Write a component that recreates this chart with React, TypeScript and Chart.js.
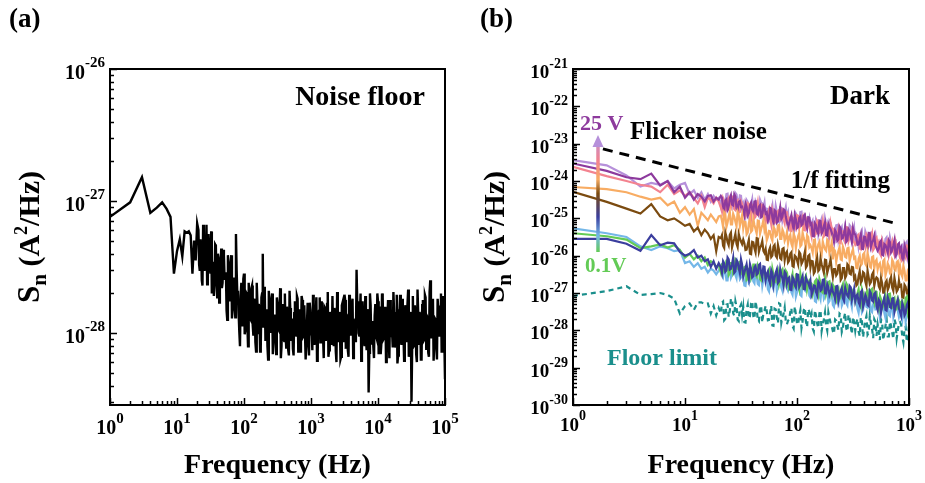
import React, { useEffect, useRef } from "react";
import { Chart, registerables } from "chart.js";

Chart.register(...registerables);

const SERIF = '"Liberation Serif", "Times New Roman", serif';

// ---------- Panel (a): noise floor ----------
const A_LOW_FREQ = [1, 2, 3, 4, 5, 6, 7, 8, 9, 10, 11, 12, 13, 14, 15, 16, 17, 18, 19, 20];
const A_LOW_EXP = [-27.12, -27.01, -26.82, -27.09, -27.05, -27.01, -27.06, -27.12, -27.55, -27.38, -27.29, -27.42, -27.23, -27.24, -27.23, -27.26, -27.55, -27.3, -27.45, -27.17];
// log10(frequency) of the dense part (even grid)
const A_HIGH_LOGF = [
  1.32, 1.34, 1.36, 1.38, 1.40, 1.42, 1.44, 1.46, 1.48, 1.50,
  1.52, 1.54, 1.56, 1.58, 1.60, 1.62, 1.64, 1.66, 1.68, 1.70,
  1.72, 1.74, 1.76, 1.78, 1.80, 1.82, 1.84, 1.86, 1.88, 1.90,
  1.92, 1.94, 1.96, 1.98, 2.00,
  2.02, 2.04, 2.06, 2.08, 2.10, 2.12, 2.14, 2.16, 2.18, 2.20,
  2.22, 2.24, 2.26, 2.28, 2.30, 2.32, 2.34, 2.36, 2.38, 2.40,
  2.42, 2.44, 2.46, 2.48, 2.50, 2.52, 2.54, 2.56, 2.58, 2.60,
  2.62, 2.64, 2.66, 2.68, 2.70, 2.72, 2.74, 2.76, 2.78, 2.80,
  2.82, 2.84, 2.86, 2.88, 2.90, 2.92, 2.94, 2.96, 2.98, 3.00,
  3.02, 3.04, 3.06, 3.08, 3.10, 3.12, 3.14, 3.16, 3.18, 3.20,
  3.22, 3.24, 3.26, 3.28, 3.30, 3.32, 3.34, 3.36, 3.38, 3.40,
  3.42, 3.44, 3.46, 3.48, 3.50, 3.52, 3.54, 3.56, 3.58, 3.60,
  3.62, 3.64, 3.66, 3.68, 3.70, 3.72, 3.74, 3.76, 3.78, 3.80,
  3.82, 3.84, 3.86, 3.88, 3.90, 3.92, 3.94, 3.96, 3.98, 4.00,
  4.02, 4.04, 4.06, 4.08, 4.10, 4.12, 4.14, 4.16, 4.18, 4.20,
  4.22, 4.24, 4.26, 4.28, 4.30, 4.32, 4.34, 4.36, 4.38, 4.40,
  4.42, 4.44, 4.46, 4.48, 4.50, 4.52, 4.54, 4.56, 4.58, 4.60,
  4.62, 4.64, 4.66, 4.68, 4.70, 4.72, 4.74, 4.76, 4.78, 4.80,
  4.82, 4.84, 4.86, 4.88, 4.90, 4.92, 4.94, 4.96, 4.98, 5.00,
];
const A_HIGH_EXP = [
  -27.22, -27.53, -27.36, -27.64, -27.29, -27.48, -27.18, -27.59, -27.40, -27.55,
  -27.70, -27.46, -27.59, -27.34, -27.73, -27.43, -27.65, -27.36, -27.62, -27.41,
  -27.59, -27.83, -27.41, -27.72, -27.48, -27.89, -27.61, -27.77, -27.25, -27.70,
  -27.85, -28.10, -27.62, -27.95, -27.55,
  -27.98, -27.70, -28.10, -27.76, -27.90, -27.64, -28.02, -27.81, -28.14, -27.77,
  -27.78, -28.14, -27.73, -27.40, -27.65, -28.06, -27.82, -28.20, -27.76, -27.92,
  -27.70, -28.04, -27.86, -28.16, -27.78, -27.98, -27.66, -28.10, -27.90, -28.06,
  -28.00, -27.80, -28.13, -27.68, -28.06, -27.89, -28.17, -27.76, -28.02, -27.74,
  -27.90, -28.14, -27.72, -28.03, -27.79, -28.20, -27.92, -28.08, -27.77, -28.01,
  -28.13, -27.86, -28.01, -27.73, -28.15, -27.83, -28.07, -27.76, -28.03, -27.80,
  -28.06, -27.78, -28.18, -27.84, -27.98, -27.72, -28.10, -27.89, -28.22, -27.85,
  -27.84, -28.20, -27.79, -28.06, -27.71, -28.12, -27.88, -28.18, -27.82, -27.98,
  -27.74, -28.08, -27.90, -27.52, -27.82, -28.02, -27.70, -28.14, -27.94, -28.10,
  -28.02, -27.82, -28.45, -27.70, -28.08, -27.91, -28.19, -27.78, -28.04, -27.76,
  -27.88, -28.16, -27.70, -28.05, -27.81, -28.22, -27.90, -28.06, -27.75, -28.03,
  -28.11, -27.84, -28.03, -27.71, -28.17, -27.85, -28.05, -27.74, -28.01, -27.82,
  -28.06, -27.78, -28.18, -27.84, -28.52, -27.72, -28.10, -27.89, -28.22, -27.85,
  -27.84, -28.20, -27.79, -28.06, -27.71, -28.12, -27.88, -28.18, -27.60, -27.98,
  -27.74, -28.08, -27.90, -28.20, -27.82, -28.02, -27.70, -28.14, -27.94, -28.35,
];
// odd grid, between the even points
const A_MID_LOGF = [
  1.33, 1.35, 1.37, 1.39, 1.41, 1.43, 1.45, 1.47, 1.49, 1.51,
  1.53, 1.55, 1.57, 1.59, 1.61, 1.63, 1.65, 1.67, 1.69, 1.71,
  1.73, 1.75, 1.77, 1.79, 1.81, 1.83, 1.85, 1.87, 1.89, 1.91,
  1.93, 1.95, 1.97, 1.99, 2.01, 2.03, 2.05, 2.07, 2.09, 2.11,
  2.13, 2.15, 2.17, 2.19, 2.21, 2.23, 2.25, 2.27, 2.29, 2.31,
  2.33, 2.35, 2.37, 2.39, 2.41, 2.43, 2.45, 2.47, 2.49, 2.51,
  2.53, 2.55, 2.57, 2.59, 2.61, 2.63, 2.65, 2.67, 2.69, 2.71,
  2.73, 2.75, 2.77, 2.79, 2.81, 2.83, 2.85, 2.87, 2.89, 2.91,
  2.93, 2.95, 2.97, 2.99, 3.01, 3.03, 3.05, 3.07, 3.09, 3.11,
  3.13, 3.15, 3.17, 3.19, 3.21, 3.23, 3.25, 3.27, 3.29, 3.31,
  3.33, 3.35, 3.37, 3.39, 3.41, 3.43, 3.45, 3.47, 3.49, 3.51,
  3.53, 3.55, 3.57, 3.59, 3.61, 3.63, 3.65, 3.67, 3.69, 3.71,
  3.73, 3.75, 3.77, 3.79, 3.81, 3.83, 3.85, 3.87, 3.89, 3.91,
  3.93, 3.95, 3.97, 3.99, 4.01, 4.03, 4.05, 4.07, 4.09, 4.11,
  4.13, 4.15, 4.17, 4.19, 4.21, 4.23, 4.25, 4.27, 4.29, 4.31,
  4.33, 4.35, 4.37, 4.39, 4.41, 4.43, 4.45, 4.47, 4.49, 4.51,
  4.53, 4.55, 4.57, 4.59, 4.61, 4.63, 4.65, 4.67, 4.69, 4.71,
  4.73, 4.75, 4.77, 4.79, 4.81, 4.83, 4.85, 4.87, 4.89, 4.91,
  4.93, 4.95, 4.97, 4.99,
];
const A_MID_EXP = [
  -27.48, -27.29, -27.60, -27.18, -27.53, -27.38, -27.63, -27.25, -27.50, -27.23,
  -27.49, -27.72, -27.33, -27.62, -27.40, -27.77, -27.52, -27.66, -27.37, -27.59,
  -27.54, -27.90, -27.49, -27.76, -27.41, -27.82, -27.58, -27.88, -27.52, -27.68,
  -27.99, -27.72, -27.87, -27.59, -28.01, -27.69, -27.93, -27.62, -27.89, -27.66,
  -27.94, -27.74, -28.07, -27.62, -28.00, -27.83, -28.11, -27.70, -27.96, -27.68,
  -27.86, -28.10, -27.68, -27.99, -27.75, -28.16, -27.88, -28.04, -27.73, -27.97,
  -27.83, -28.19, -27.78, -28.05, -27.70, -28.11, -27.87, -28.17, -27.81, -27.97,
  -28.12, -27.85, -28.00, -27.72, -28.14, -27.82, -28.06, -27.75, -28.02, -27.79,
  -28.05, -27.77, -28.17, -27.83, -27.97, -27.71, -28.09, -27.88, -28.21, -27.84,
  -27.73, -28.07, -27.89, -28.19, -27.81, -28.01, -27.69, -28.13, -27.93, -28.09,
  -28.01, -27.81, -28.14, -27.69, -28.07, -27.90, -28.18, -27.77, -28.03, -27.75,
  -27.89, -28.13, -27.71, -28.02, -27.78, -28.19, -27.91, -28.07, -27.76, -28.00,
  -27.85, -28.21, -27.76, -28.04, -27.72, -28.13, -27.85, -28.15, -27.79, -27.99,
  -28.10, -27.87, -28.02, -27.70, -28.16, -27.80, -28.08, -27.73, -28.04, -27.81,
  -28.07, -27.75, -28.19, -27.81, -27.99, -27.69, -28.11, -27.86, -28.23, -27.82,
  -27.71, -28.09, -27.87, -28.21, -27.79, -28.03, -27.67, -28.15, -27.91, -28.11,
  -28.03, -27.79, -28.16, -27.67, -28.09, -27.88, -28.20, -27.75, -28.05, -27.73,
  -27.87, -28.15, -27.69, -28.04, -27.76, -28.21, -27.89, -28.09, -27.74, -28.02,
  -27.80, -28.14, -27.72, -28.05,
];

const A_X_TICK_EXPS = [0, 1, 2, 3, 4, 5];
const A_Y_TICK_EXPS = [-26, -27, -28];

// ---------- Panel (b): dark, 0.1 V ... 25 V ----------
const B_LOW_FREQ = [1, 2, 3, 4, 5, 6, 7, 8, 9, 10, 11, 12, 13, 14, 15, 16, 17, 18, 19, 20];
const B_HIGH_LOGF = [
  1.32, 1.34, 1.36, 1.38, 1.40, 1.42, 1.44, 1.46, 1.48, 1.50,
  1.52, 1.54, 1.56, 1.58, 1.60, 1.62, 1.64, 1.66, 1.68, 1.70,
  1.72, 1.74, 1.76, 1.78, 1.80, 1.82, 1.84, 1.86, 1.88, 1.90,
  1.92, 1.94, 1.96, 1.98, 2.00, 2.02, 2.04, 2.06, 2.08, 2.10,
  2.12, 2.14, 2.16, 2.18, 2.20, 2.22, 2.24, 2.26, 2.28, 2.30,
  2.32, 2.34, 2.36, 2.38, 2.40, 2.42, 2.44, 2.46, 2.48, 2.50,
  2.52, 2.54, 2.56, 2.58, 2.60, 2.62, 2.64, 2.66, 2.68, 2.70,
  2.72, 2.74, 2.76, 2.78, 2.80, 2.82, 2.84, 2.86, 2.88, 2.90,
  2.92, 2.94, 2.96, 2.98, 3.00,
];
const B_MID_LOGF = [
  1.33, 1.35, 1.37, 1.39, 1.41, 1.43, 1.45, 1.47, 1.49, 1.51,
  1.53, 1.55, 1.57, 1.59, 1.61, 1.63, 1.65, 1.67, 1.69, 1.71,
  1.73, 1.75, 1.77, 1.79, 1.81, 1.83, 1.85, 1.87, 1.89, 1.91,
  1.93, 1.95, 1.97, 1.99, 2.01, 2.03, 2.05, 2.07, 2.09, 2.11,
  2.13, 2.15, 2.17, 2.19, 2.21, 2.23, 2.25, 2.27, 2.29, 2.31,
  2.33, 2.35, 2.37, 2.39, 2.41, 2.43, 2.45, 2.47, 2.49, 2.51,
  2.53, 2.55, 2.57, 2.59, 2.61, 2.63, 2.65, 2.67, 2.69, 2.71,
  2.73, 2.75, 2.77, 2.79, 2.81, 2.83, 2.85, 2.87, 2.89, 2.91,
  2.93, 2.95, 2.97, 2.99,
];

const B_PURPLE = [
  -23.53, -23.73, -23.9, -23.95, -23.8, -24.12, -24.0, -24.3, -24.15, -24.45, -24.3, -24.5, -24.35, -24.42, -24.55, -24.4, -24.38, -24.55, -24.45, -24.5,
  -24.40, -24.68, -24.53, -24.78, -24.46, -24.63, -24.36, -24.73, -24.56, -24.70,
  -24.83, -24.60, -24.93, -24.65, -24.77, -24.55, -24.87, -24.69, -24.97, -24.66,
  -24.87, -25.07, -24.72, -24.98, -24.78, -25.12, -24.89, -25.02, -24.76, -24.96,
  -25.24, -25.02, -25.14, -24.91, -25.26, -24.99, -25.19, -24.93, -25.16, -24.97,
  -25.17, -25.47, -25.13, -25.35, -25.06, -25.40, -25.20, -25.45, -25.15, -25.29,
  -25.49, -25.32, -25.60, -25.22, -25.54, -25.40, -25.63, -25.29, -25.51, -25.27,
  -25.43, -25.71, -25.56, -25.81, -25.49, -25.66, -25.39, -25.76, -25.59, -25.73,
  -25.87, -25.64, -25.97, -25.69, -25.81, -25.59, -25.91, -25.73, -26.01, -25.70,
  -25.87, -26.07, -25.72, -25.98, -25.78,
];
const B_PURPLE_MID = [
  -24.45, -24.79, -24.49, -24.72, -24.38, -24.65, -24.42, -24.77, -24.54, -24.69,
  -24.94, -24.69, -24.87, -24.58, -24.83, -24.54, -24.90, -24.65, -24.95, -24.72,
  -24.84, -25.01, -24.74, -25.13, -24.81, -25.08, -24.71, -24.96, -24.78, -25.10,
  -25.13, -24.91, -25.30, -25.03, -25.23, -24.95, -25.16, -24.90, -25.27, -24.98,
  -25.14, -25.48, -25.18, -25.41, -25.07, -25.34, -25.11, -25.46, -25.23, -25.38,
  -25.63, -25.38, -25.56, -25.27, -25.52, -25.23, -25.59, -25.34, -25.64, -25.41,
  -25.53, -25.70, -25.43, -25.82, -25.50, -25.77, -25.40, -25.65, -25.47, -25.79,
  -25.82, -25.60, -25.99, -25.72, -25.92, -25.64, -25.85, -25.59, -25.96, -25.67,
  -25.79, -26.13, -25.83, -26.06,
];
const B_LAVENDER = [
  -23.44, -23.58, -23.85, -24.15, -24.05, -24.1, -24.0, -24.2, -24.1, -24.05, -24.35, -24.25, -24.45, -24.3, -24.5, -24.35, -24.55, -24.4, -24.5, -24.45,
  -24.67, -24.45, -24.57, -24.34, -24.69, -24.42, -24.62, -24.36, -24.59, -24.40,
  -24.60, -24.90, -24.56, -24.78, -24.49, -24.83, -24.63, -24.88, -24.58, -24.72,
  -24.92, -24.75, -25.03, -24.65, -24.97, -24.83, -25.06, -24.72, -24.94, -24.70,
  -24.86, -25.14, -24.99, -25.24, -24.92, -25.09, -24.82, -25.19, -25.02, -25.16,
  -25.29, -25.06, -25.39, -25.11, -25.23, -25.01, -25.33, -25.15, -25.43, -25.12,
  -25.33, -25.53, -25.18, -25.44, -25.24, -25.58, -25.35, -25.48, -25.22, -25.42,
  -25.69, -25.47, -25.59, -25.36, -25.71, -25.44, -25.64, -25.38, -25.61, -25.42,
  -25.62, -25.92, -25.58, -25.80, -25.51, -25.85, -25.65, -25.90, -25.60, -25.74,
  -25.90, -25.73, -26.01, -25.63, -25.95,
];
const B_LAVENDER_MID = [
  -24.45, -24.62, -24.35, -24.74, -24.42, -24.69, -24.32, -24.57, -24.39, -24.71,
  -24.73, -24.51, -24.90, -24.63, -24.83, -24.55, -24.76, -24.50, -24.87, -24.58,
  -24.74, -25.08, -24.78, -25.01, -24.67, -24.94, -24.71, -25.06, -24.83, -24.98,
  -25.23, -24.98, -25.16, -24.87, -25.12, -24.83, -25.19, -24.94, -25.24, -25.01,
  -25.13, -25.30, -25.03, -25.42, -25.10, -25.37, -25.00, -25.25, -25.07, -25.39,
  -25.41, -25.19, -25.58, -25.31, -25.51, -25.23, -25.44, -25.18, -25.55, -25.26,
  -25.42, -25.76, -25.46, -25.69, -25.35, -25.62, -25.39, -25.74, -25.51, -25.66,
  -25.91, -25.66, -25.84, -25.55, -25.80, -25.51, -25.87, -25.62, -25.92, -25.69,
  -25.77, -25.94, -25.67, -26.06,
];
const B_PINK = [
  -23.62, -23.87, -24.0, -24.1, -24.15, -24.3, -24.1, -24.35, -24.25, -24.4, -24.3, -24.45, -24.6, -24.4, -24.7, -24.45, -24.5, -24.6, -24.45, -24.55,
  -24.71, -24.48, -24.81, -24.53, -24.65, -24.43, -24.75, -24.57, -24.85, -24.54,
  -24.74, -24.94, -24.59, -24.85, -24.65, -24.99, -24.76, -24.89, -24.63, -24.83,
  -25.10, -24.88, -25.00, -24.77, -25.12, -24.85, -25.05, -24.79, -25.02, -24.83,
  -25.03, -25.33, -24.99, -25.21, -24.92, -25.26, -25.06, -25.31, -25.01, -25.15,
  -25.34, -25.17, -25.45, -25.07, -25.39, -25.25, -25.48, -25.14, -25.36, -25.12,
  -25.28, -25.56, -25.41, -25.66, -25.34, -25.51, -25.24, -25.61, -25.44, -25.58,
  -25.71, -25.48, -25.81, -25.53, -25.65, -25.43, -25.75, -25.57, -25.85, -25.54,
  -25.74, -25.94, -25.59, -25.85, -25.65, -25.99, -25.76, -25.89, -25.63, -25.83,
  -26.06, -25.84, -25.96, -25.73, -26.08,
];
const B_PINK_MID = [
  -24.82, -24.57, -24.75, -24.46, -24.71, -24.42, -24.78, -24.53, -24.83, -24.60,
  -24.71, -24.88, -24.61, -25.00, -24.68, -24.95, -24.58, -24.83, -24.65, -24.97,
  -24.99, -24.77, -25.16, -24.89, -25.09, -24.81, -25.02, -24.76, -25.13, -24.84,
  -25.00, -25.34, -25.04, -25.27, -24.93, -25.20, -24.97, -25.32, -25.09, -25.24,
  -25.48, -25.23, -25.41, -25.12, -25.37, -25.08, -25.44, -25.19, -25.49, -25.26,
  -25.38, -25.55, -25.28, -25.67, -25.35, -25.62, -25.25, -25.50, -25.32, -25.64,
  -25.66, -25.44, -25.83, -25.56, -25.76, -25.48, -25.69, -25.43, -25.80, -25.51,
  -25.66, -26.00, -25.70, -25.93, -25.59, -25.86, -25.63, -25.98, -25.75, -25.90,
  -26.11, -25.86, -26.04, -25.75,
];
const B_ORANGE = [
  -24.16, -24.22, -24.3, -24.42, -24.5, -24.45, -24.65, -24.55, -24.85, -24.7, -24.9, -24.75, -25.2, -24.85, -24.95, -25.05, -24.9, -25.0, -25.1, -24.95,
  -24.93, -25.23, -24.89, -25.11, -24.82, -25.16, -24.96, -25.21, -24.91, -25.05,
  -25.27, -25.10, -25.38, -25.00, -25.32, -25.18, -25.41, -25.07, -25.29, -25.05,
  -25.22, -25.50, -25.35, -25.60, -25.28, -25.45, -25.18, -25.55, -25.38, -25.52,
  -25.67, -25.44, -25.77, -25.49, -25.61, -25.39, -25.71, -25.53, -25.81, -25.50,
  -25.72, -25.92, -25.57, -25.83, -25.63, -25.97, -25.74, -25.87, -25.61, -25.81,
  -26.10, -25.88, -26.00, -25.77, -26.12, -25.85, -26.05, -25.79, -26.02, -25.83,
  -26.04, -26.34, -26.00, -26.22, -25.93, -26.27, -26.07, -26.32, -26.02, -26.16,
  -26.37, -26.20, -26.48, -26.10, -26.42, -26.28, -26.51, -26.17, -26.39, -26.15,
  -26.28, -26.56, -26.41, -26.66, -26.34,
];
const B_ORANGE_MID = [
  -25.06, -24.84, -25.23, -24.96, -25.16, -24.88, -25.09, -24.83, -25.20, -24.91,
  -25.09, -25.43, -25.13, -25.36, -25.02, -25.29, -25.06, -25.41, -25.18, -25.33,
  -25.59, -25.34, -25.52, -25.23, -25.48, -25.19, -25.55, -25.30, -25.60, -25.37,
  -25.51, -25.68, -25.41, -25.80, -25.48, -25.75, -25.38, -25.63, -25.45, -25.77,
  -25.80, -25.58, -25.97, -25.70, -25.90, -25.62, -25.83, -25.57, -25.94, -25.65,
  -25.83, -26.17, -25.87, -26.10, -25.76, -26.03, -25.80, -26.15, -25.92, -26.07,
  -26.33, -26.08, -26.26, -25.97, -26.22, -25.93, -26.29, -26.04, -26.34, -26.11,
  -26.24, -26.41, -26.14, -26.53, -26.21, -26.48, -26.11, -26.36, -26.18, -26.50,
  -26.49, -26.27, -26.66, -26.39,
];
const B_BROWN = [
  -24.29, -24.56, -24.74, -24.87, -24.62, -24.95, -25.05, -25.0, -25.1, -25.2, -25.15, -25.35, -25.25, -25.45, -25.3, -25.4, -25.55, -25.45, -25.88, -25.5,
  -25.53, -25.73, -25.38, -25.64, -25.44, -25.78, -25.55, -25.68, -25.42, -25.62,
  -25.57, -25.85, -25.70, -25.95, -25.63, -25.80, -25.53, -25.90, -25.73, -25.87,
  -25.82, -26.12, -25.78, -26.00, -25.71, -26.05, -25.85, -26.10, -25.80, -25.94,
  -26.18, -25.95, -26.28, -26.00, -26.12, -25.90, -26.22, -26.04, -26.32, -26.01,
  -26.32, -26.15, -26.43, -26.05, -26.37, -26.23, -26.46, -26.12, -26.34, -26.10,
  -26.58, -26.36, -26.48, -26.25, -26.60, -26.33, -26.53, -26.27, -26.50, -26.31,
  -26.56, -26.76, -26.41, -26.67, -26.47, -26.81, -26.58, -26.71, -26.45, -26.65,
  -26.61, -26.89, -26.74, -26.99, -26.67, -26.84, -26.57, -26.94, -26.77, -26.91,
  -26.82, -27.12, -26.78, -27.00, -26.71,
];
const B_BROWN_MID = [
  -25.45, -25.79, -25.49, -25.72, -25.38, -25.65, -25.42, -25.77, -25.54, -25.69,
  -25.67, -25.84, -25.57, -25.96, -25.64, -25.91, -25.54, -25.79, -25.61, -25.93,
  -26.11, -25.86, -26.04, -25.75, -26.00, -25.71, -26.07, -25.82, -26.12, -25.89,
  -26.13, -25.91, -26.30, -26.03, -26.23, -25.95, -26.16, -25.90, -26.27, -25.98,
  -26.14, -26.48, -26.18, -26.41, -26.07, -26.34, -26.11, -26.46, -26.23, -26.38,
  -26.36, -26.53, -26.26, -26.65, -26.33, -26.60, -26.23, -26.48, -26.30, -26.62,
  -26.80, -26.55, -26.73, -26.44, -26.69, -26.40, -26.76, -26.51, -26.81, -26.58,
  -26.82, -26.60, -26.99, -26.72, -26.92, -26.64, -26.85, -26.59, -26.96, -26.67,
  -26.79, -27.13, -26.83, -27.06,
];
const B_NAVY = [
  -25.55, -25.55, -25.68, -25.87, -25.45, -25.72, -25.65, -25.67, -25.9, -26.0, -25.95, -25.85, -26.05, -26.0, -26.15, -26.1, -26.3, -26.15, -26.35, -26.2,
  -26.32, -26.15, -26.43, -26.05, -26.37, -26.23, -26.46, -26.12, -26.34, -26.10,
  -26.56, -26.34, -26.46, -26.23, -26.58, -26.31, -26.51, -26.25, -26.48, -26.29,
  -26.65, -26.42, -26.75, -26.47, -26.59, -26.37, -26.69, -26.51, -26.79, -26.48,
  -26.61, -26.91, -26.57, -26.79, -26.50, -26.84, -26.64, -26.89, -26.59, -26.73,
  -26.68, -26.96, -26.81, -27.06, -26.74, -26.91, -26.64, -27.01, -26.84, -26.98,
  -26.96, -27.16, -26.81, -27.07, -26.87, -27.21, -26.98, -27.11, -26.85, -27.05,
  -27.21, -27.04, -27.32, -26.94, -27.26, -27.12, -27.35, -27.01, -27.23, -26.99,
  -27.45, -27.23, -27.35, -27.12, -27.47, -27.20, -27.40, -27.14, -27.37, -27.18,
  -27.50, -27.27, -27.60, -27.32, -27.44,
];
const B_NAVY_MID = [
  -26.46, -26.21, -26.39, -26.10, -26.35, -26.06, -26.42, -26.17, -26.47, -26.24,
  -26.45, -26.23, -26.62, -26.35, -26.55, -26.27, -26.48, -26.22, -26.59, -26.30,
  -26.49, -26.66, -26.39, -26.78, -26.46, -26.73, -26.36, -26.61, -26.43, -26.75,
  -26.58, -26.92, -26.62, -26.85, -26.51, -26.78, -26.55, -26.90, -26.67, -26.82,
  -27.05, -26.80, -26.98, -26.69, -26.94, -26.65, -27.01, -26.76, -27.06, -26.83,
  -27.04, -26.82, -27.21, -26.94, -27.14, -26.86, -27.07, -26.81, -27.18, -26.89,
  -27.08, -27.25, -26.98, -27.37, -27.05, -27.32, -26.95, -27.20, -27.02, -27.34,
  -27.18, -27.52, -27.22, -27.45, -27.11, -27.38, -27.15, -27.50, -27.27, -27.42,
  -27.61, -27.36, -27.54, -27.25,
];
const B_LIGHTBLUE = [
  -25.27, -25.4, -25.5, -25.75, -25.85, -25.75, -25.8, -25.88, -25.85, -26.2, -26.15, -26.3, -26.2, -26.35, -26.3, -26.45, -26.35, -26.4, -26.5, -26.4,
  -26.28, -26.56, -26.41, -26.66, -26.34, -26.51, -26.24, -26.61, -26.44, -26.58,
  -26.51, -26.81, -26.47, -26.69, -26.40, -26.74, -26.54, -26.79, -26.49, -26.63,
  -26.70, -26.90, -26.55, -26.81, -26.61, -26.95, -26.72, -26.85, -26.59, -26.79,
  -26.94, -26.77, -27.05, -26.67, -26.99, -26.85, -27.08, -26.74, -26.96, -26.72,
  -27.12, -26.89, -27.22, -26.94, -27.06, -26.84, -27.16, -26.98, -27.26, -26.95,
  -27.32, -27.10, -27.22, -26.99, -27.34, -27.07, -27.27, -27.01, -27.24, -27.05,
  -27.14, -27.42, -27.27, -27.52, -27.20, -27.37, -27.10, -27.47, -27.30, -27.44,
  -27.36, -27.66, -27.32, -27.54, -27.25, -27.59, -27.39, -27.64, -27.34, -27.48,
  -27.52, -27.72, -27.37, -27.63, -27.43,
];
const B_LIGHTBLUE_MID = [
  -26.49, -26.27, -26.66, -26.39, -26.59, -26.31, -26.52, -26.26, -26.63, -26.34,
  -26.80, -26.55, -26.73, -26.44, -26.69, -26.40, -26.76, -26.51, -26.81, -26.58,
  -26.62, -26.96, -26.66, -26.89, -26.55, -26.82, -26.59, -26.94, -26.71, -26.86,
  -26.81, -26.98, -26.71, -27.10, -26.78, -27.05, -26.68, -26.93, -26.75, -27.07,
  -27.07, -26.85, -27.24, -26.97, -27.17, -26.89, -27.10, -26.84, -27.21, -26.92,
  -27.37, -27.12, -27.30, -27.01, -27.26, -26.97, -27.33, -27.08, -27.38, -27.15,
  -27.19, -27.53, -27.23, -27.46, -27.12, -27.39, -27.16, -27.51, -27.28, -27.43,
  -27.38, -27.55, -27.28, -27.67, -27.35, -27.62, -27.25, -27.50, -27.32, -27.64,
  -27.60, -27.38, -27.77, -27.50,
];
const B_GREEN = [
  -25.4, -25.48, -25.57, -25.8, -25.75, -25.7, -25.78, -25.72, -25.85, -26.05, -25.95, -26.1, -26.0, -26.15, -26.05, -26.25, -26.15, -26.2, -26.3, -26.25,
  -26.45, -26.23, -26.35, -26.12, -26.47, -26.20, -26.40, -26.14, -26.37, -26.18,
  -26.52, -26.29, -26.62, -26.34, -26.46, -26.24, -26.56, -26.38, -26.66, -26.35,
  -26.62, -26.45, -26.73, -26.35, -26.67, -26.53, -26.76, -26.42, -26.64, -26.40,
  -26.65, -26.85, -26.50, -26.76, -26.56, -26.90, -26.67, -26.80, -26.54, -26.74,
  -26.73, -27.03, -26.69, -26.91, -26.62, -26.96, -26.76, -27.01, -26.71, -26.85,
  -26.78, -27.06, -26.91, -27.16, -26.84, -27.01, -26.74, -27.11, -26.94, -27.08,
  -27.23, -27.01, -27.13, -26.90, -27.25, -26.98, -27.18, -26.92, -27.15, -26.96,
  -27.31, -27.08, -27.41, -27.13, -27.25, -27.03, -27.35, -27.17, -27.45, -27.14,
  -27.37, -27.20, -27.48, -27.10, -27.42,
];
const B_GREEN_MID = [
  -26.23, -26.40, -26.13, -26.52, -26.20, -26.47, -26.10, -26.35, -26.17, -26.49,
  -26.31, -26.65, -26.35, -26.58, -26.24, -26.51, -26.28, -26.63, -26.40, -26.55,
  -26.60, -26.38, -26.77, -26.50, -26.70, -26.42, -26.63, -26.37, -26.74, -26.45,
  -26.89, -26.64, -26.82, -26.53, -26.78, -26.49, -26.85, -26.60, -26.90, -26.67,
  -26.75, -26.92, -26.65, -27.04, -26.72, -26.99, -26.62, -26.87, -26.69, -27.01,
  -26.83, -27.17, -26.87, -27.10, -26.76, -27.03, -26.80, -27.15, -26.92, -27.07,
  -27.12, -26.90, -27.29, -27.02, -27.22, -26.94, -27.15, -26.89, -27.26, -26.97,
  -27.42, -27.17, -27.35, -27.06, -27.31, -27.02, -27.38, -27.13, -27.43, -27.20,
  -27.24, -27.41, -27.14, -27.53,
];
const B_FLOOR = [
  -27.08, -26.95, -26.82, -27.05, -27.03, -27.0, -27.05, -27.15, -27.55, -27.35, -27.28, -27.45, -27.25, -27.25, -27.3, -27.28, -27.55, -27.35, -27.6, -27.4,
  -27.55, -27.23, -27.69, -27.30, -27.47, -27.16, -27.61, -27.36, -27.75, -27.31,
  -27.37, -27.79, -27.31, -27.62, -27.22, -27.69, -27.41, -27.76, -27.34, -27.54,
  -27.34, -27.73, -27.52, -27.87, -27.42, -27.66, -27.28, -27.80, -27.56, -27.76,
  -27.74, -27.50, -27.89, -27.36, -27.81, -27.61, -27.94, -27.46, -27.77, -27.43,
  -27.67, -27.95, -27.46, -27.82, -27.54, -28.02, -27.70, -27.88, -27.52, -27.80,
  -28.02, -27.71, -27.88, -27.55, -28.04, -27.67, -27.95, -27.58, -27.90, -27.64,
  -28.01, -27.69, -28.15, -27.76, -27.93, -27.62, -28.07, -27.82, -28.21, -27.77,
  -27.84, -28.26, -27.78, -28.09, -27.69, -28.16, -27.88, -28.23, -27.81, -28.01,
  -27.78, -28.17, -27.96, -28.31, -27.86,
];
const B_FLOOR_MID = [
  -27.26, -27.73, -27.31, -27.64, -27.16, -27.54, -27.22, -27.71, -27.38, -27.59,
  -27.78, -27.43, -27.68, -27.27, -27.62, -27.22, -27.72, -27.37, -27.79, -27.47,
  -27.48, -27.72, -27.34, -27.88, -27.44, -27.81, -27.30, -27.65, -27.39, -27.84,
  -27.71, -27.40, -27.95, -27.57, -27.85, -27.46, -27.75, -27.39, -27.91, -27.50,
  -27.56, -28.03, -27.61, -27.94, -27.46, -27.84, -27.52, -28.01, -27.68, -27.89,
  -28.09, -27.74, -27.99, -27.58, -27.93, -27.53, -28.03, -27.68, -28.10, -27.78,
  -27.79, -28.03, -27.65, -28.19, -27.75, -28.12, -27.61, -27.96, -27.70, -28.15,
  -28.02, -27.71, -28.26, -27.88, -28.16, -27.77, -28.06, -27.70, -28.22, -27.81,
  -27.85, -28.32, -27.90, -28.23,
];
// 1/f fitting guide line: frequency and log10(S_n) at both ends
const FIT_FREQ = [1.85, 750];
const FIT_EXP = [-23.14, -25.13];

const B_X_TICK_EXPS = [0, 1, 2, 3];
const B_Y_TICK_EXPS = [-21, -22, -23, -24, -25, -26, -27, -28, -29, -30];

const C_LAVENDER = "#b690da";
const C_PURPLE = "#8d3a9d";
const C_PINK = "#f3838f";
const C_ORANGE = "#f8ac63";
const C_BROWN = "#7b4b10";
const C_NAVY = "#3b3e9e";
const C_LIGHTBLUE = "#74b7e8";
const C_GREEN = "#63cb56";
const C_TEAL = "#1a8f8c";

const pts = (freq: number[], exps: number[]) =>
  freq.map((f, i) => ({ x: f, y: Math.pow(10, exps[i]) }));
const fromLog = (logs: number[]) => logs.map((v) => Math.pow(10, v));

const A_POINTS = [
  ...pts(A_LOW_FREQ, A_LOW_EXP),
  ...pts(fromLog(A_HIGH_LOGF), A_HIGH_EXP),
  ...pts(fromLog(A_MID_LOGF), A_MID_EXP),
].sort((p, q) => p.x - q.x);
const FREQ_B = [...B_LOW_FREQ, ...fromLog(B_HIGH_LOGF)];
const FREQ_B_MID = fromLog(B_MID_LOGF);
const seriesB = (main: number[], mid: number[]) =>
  [...pts(FREQ_B, main), ...pts(FREQ_B_MID, mid)].sort((p, q) => p.x - q.x);

type Note = { text: string; x: number; y: number; size: number; color: string; align: CanvasTextAlign };
type Deco = {
  label: string;
  labelX: number;
  xTicks: number[];
  yTicks: number[];
  baseSize: number;
  expSize: number;
  yBaseOff: number;
  yExpOff: number;
  xBaseline: number;
  xExpBaseline: number;
  titleX: number;
  notes: Note[];
  arrow?: { x: number; yBottom: number; yTop: number };
};

function drawPow(
  ctx: CanvasRenderingContext2D,
  x: number,
  baseY: number,
  expY: number,
  exp: string,
  baseSize: number,
  expSize: number,
  align: "right" | "center"
) {
  const fb = `bold ${baseSize}px ${SERIF}`;
  const fe = `bold ${expSize}px ${SERIF}`;
  ctx.font = fb;
  const wb = ctx.measureText("10").width;
  ctx.font = fe;
  const we = ctx.measureText(exp).width;
  const x0 = align === "right" ? x - wb - we : x - (wb + we) / 2;
  ctx.textAlign = "left";
  ctx.textBaseline = "alphabetic";
  ctx.fillStyle = "#000";
  ctx.font = fb;
  ctx.fillText("10", x0, baseY);
  ctx.font = fe;
  ctx.fillText(exp, x0 + wb, expY);
}

function drawMinorMajor(ctx: CanvasRenderingContext2D, scale: any, horizontal: boolean, area: any) {
  const lo = Math.floor(Math.log10(scale.min)) - 1;
  const hi = Math.ceil(Math.log10(scale.max));
  ctx.strokeStyle = "#000";
  ctx.lineWidth = 1.5;
  for (let d = lo; d <= hi; d++) {
    for (let m = 1; m <= 9; m++) {
      const v = m * Math.pow(10, d);
      if (v < scale.min * 0.9999 || v > scale.max * 1.0001) continue;
      const p = Math.round(scale.getPixelForValue(v)) + 0.5;
      const len = m === 1 ? 7 : 4;
      ctx.beginPath();
      if (horizontal) {
        ctx.moveTo(p, area.bottom);
        ctx.lineTo(p, area.bottom - len);
      } else {
        ctx.moveTo(area.left, p);
        ctx.lineTo(area.left + len, p);
      }
      ctx.stroke();
    }
  }
}

function makeDecoPlugin(deco: Deco) {
  return {
    id: "deco",
    afterDraw(chart: any) {
      const ctx: CanvasRenderingContext2D = chart.ctx;
      const area = chart.chartArea;
      const xs = chart.scales.x;
      const ys = chart.scales.y;
      ctx.save();
      ctx.strokeStyle = "#000";
      ctx.lineWidth = 2;
      ctx.strokeRect(area.left, area.top, area.right - area.left, area.bottom - area.top);
      drawMinorMajor(ctx, xs, true, area);
      drawMinorMajor(ctx, ys, false, area);
      for (const e of deco.yTicks) {
        const p = ys.getPixelForValue(Math.pow(10, e));
        drawPow(ctx, area.left - 5, p + deco.yBaseOff, p + deco.yExpOff, String(e), deco.baseSize, deco.expSize, "right");
      }
      for (const e of deco.xTicks) {
        const p = xs.getPixelForValue(Math.pow(10, e));
        drawPow(ctx, p, deco.xBaseline, deco.xExpBaseline, String(e), deco.baseSize, deco.expSize, "center");
      }
      ctx.fillStyle = "#000";
      ctx.font = `bold 28px ${SERIF}`;
      ctx.textAlign = "center";
      ctx.textBaseline = "alphabetic";
      ctx.fillText("Frequency (Hz)", (area.left + area.right) / 2, 473);
      const runs = [
        { t: "S", s: 31, dy: 0 },
        { t: "n", s: 21, dy: 7 },
        { t: " (A", s: 30, dy: 0 },
        { t: "2", s: 18, dy: -12 },
        { t: "/Hz)", s: 30, dy: 0 },
      ];
      let total = 0;
      const widths = runs.map((r) => {
        ctx.font = `bold ${r.s}px ${SERIF}`;
        const w = ctx.measureText(r.t).width;
        total += w;
        return w;
      });
      ctx.save();
      ctx.translate(deco.titleX, (area.top + area.bottom) / 2);
      ctx.rotate(-Math.PI / 2);
      ctx.textAlign = "left";
      let cx = -total / 2;
      runs.forEach((r, i) => {
        ctx.font = `bold ${r.s}px ${SERIF}`;
        ctx.fillText(r.t, cx, 10 + r.dy);
        cx += widths[i];
      });
      ctx.restore();
      ctx.font = `bold 27px ${SERIF}`;
      ctx.textAlign = "left";
      ctx.textBaseline = "middle";
      ctx.fillStyle = "#000";
      ctx.fillText(deco.label, deco.labelX, 20);
      if (deco.arrow) {
        const { x, yBottom, yTop } = deco.arrow;
        const g = ctx.createLinearGradient(0, yBottom, 0, yTop);
        g.addColorStop(0, C_GREEN);
        g.addColorStop(0.14, C_LIGHTBLUE);
        g.addColorStop(0.3, C_NAVY);
        g.addColorStop(0.5, C_BROWN);
        g.addColorStop(0.62, C_ORANGE);
        g.addColorStop(0.78, C_PINK);
        g.addColorStop(1, C_LAVENDER);
        ctx.strokeStyle = g;
        ctx.lineWidth = 3.5;
        ctx.beginPath();
        ctx.moveTo(x, yBottom);
        ctx.lineTo(x, yTop + 9);
        ctx.stroke();
        ctx.fillStyle = C_LAVENDER;
        ctx.beginPath();
        ctx.moveTo(x, yTop);
        ctx.lineTo(x - 5.5, yTop + 12);
        ctx.lineTo(x + 5.5, yTop + 12);
        ctx.closePath();
        ctx.fill();
      }
      for (const n of deco.notes) {
        ctx.font = `bold ${n.size}px ${SERIF}`;
        ctx.fillStyle = n.color;
        ctx.textAlign = n.align;
        ctx.textBaseline = "middle";
        ctx.fillText(n.text, n.x, n.y);
      }
      ctx.restore();
    },
  };
}

function baseOptions(pad: any, xMin: number, xMax: number, yMin: number, yMax: number): any {
  return {
    animation: false,
    responsive: false,
    maintainAspectRatio: false,
    layout: { padding: pad },
    plugins: { legend: { display: false }, tooltip: { enabled: false } },
    elements: { point: { radius: 0 }, line: { tension: 0 } },
    scales: {
      x: { type: "logarithmic", min: xMin, max: xMax, display: false },
      y: { type: "logarithmic", min: yMin, max: yMax, display: false },
    },
  };
}

function PanelA() {
  const ref = useRef<HTMLCanvasElement>(null);
  useEffect(() => {
    const chart = new Chart(ref.current as HTMLCanvasElement, {
      type: "line",
      data: {
        datasets: [
          {
            data: A_POINTS,
            borderColor: "#000",
            borderWidth: 2.4,
            pointRadius: 0,
          },
        ],
      },
      options: baseOptions({ left: 110, right: 17, top: 69, bottom: 78 }, 1, 1e5, 2.85e-29, 1e-26),
      plugins: [
        makeDecoPlugin({
          label: "(a)",
          labelX: 9,
          xTicks: A_X_TICK_EXPS,
          yTicks: A_Y_TICK_EXPS,
          baseSize: 20,
          expSize: 15,
          yBaseOff: 10,
          yExpOff: -2,
          xBaseline: 434,
          xExpBaseline: 423,
          titleX: 29,
          notes: [{ text: "Noise floor", x: 425, y: 98, size: 28, color: "#000", align: "right" }],
        }) as any,
      ],
    });
    return () => chart.destroy();
  }, []);
  return <canvas ref={ref} width={462} height={483} style={{ display: "block" }} />;
}

function PanelB() {
  const ref = useRef<HTMLCanvasElement>(null);
  useEffect(() => {
    const line = (main: number[], mid: number[], color: string) => ({
      data: seriesB(main, mid),
      borderColor: color,
      borderWidth: 2.2,
      pointRadius: 0,
    });
    const chart = new Chart(ref.current as HTMLCanvasElement, {
      type: "line",
      data: {
        datasets: [
          {
            data: pts(FIT_FREQ, FIT_EXP),
            borderColor: "#000",
            borderWidth: 3,
            borderDash: [10, 7],
            pointRadius: 0,
          },
          line(B_NAVY, B_NAVY_MID, C_NAVY),
          line(B_GREEN, B_GREEN_MID, C_GREEN),
          line(B_LIGHTBLUE, B_LIGHTBLUE_MID, C_LIGHTBLUE),
          line(B_BROWN, B_BROWN_MID, C_BROWN),
          line(B_ORANGE, B_ORANGE_MID, C_ORANGE),
          line(B_PURPLE, B_PURPLE_MID, C_PURPLE),
          line(B_PINK, B_PINK_MID, C_PINK),
          line(B_LAVENDER, B_LAVENDER_MID, C_LAVENDER),
          { ...line(B_FLOOR, B_FLOOR_MID, C_TEAL), borderWidth: 2.2, borderDash: [5, 4] },
        ],
      },
      options: baseOptions({ left: 111, right: 16, top: 69, bottom: 78 }, 1, 1e3, 1e-30, 1e-21),
      plugins: [
        makeDecoPlugin({
          label: "(b)",
          labelX: 18,
          xTicks: B_X_TICK_EXPS,
          yTicks: B_Y_TICK_EXPS,
          baseSize: 19,
          expSize: 14,
          yBaseOff: 9,
          yExpOff: -1,
          xBaseline: 431,
          xExpBaseline: 420,
          titleX: 32,
          arrow: { x: 136, yBottom: 252, yTop: 135 },
          notes: [
            { text: "Dark", x: 428, y: 97, size: 27, color: "#000", align: "right" },
            { text: "Flicker noise", x: 168, y: 133, size: 25, color: "#000", align: "left" },
            { text: "1/f fitting", x: 428, y: 182, size: 25, color: "#000", align: "right" },
            { text: "25 V", x: 118, y: 124, size: 22, color: C_PURPLE, align: "left" },
            { text: "0.1V", x: 123, y: 267, size: 21, color: C_GREEN, align: "left" },
            { text: "Floor limit", x: 145, y: 359, size: 24, color: C_TEAL, align: "left" },
          ],
        }) as any,
      ],
    });
    return () => chart.destroy();
  }, []);
  return <canvas ref={ref} width={463} height={483} style={{ display: "block" }} />;
}

export default function App() {
  return (
    <div style={{ position: "absolute", left: 0, top: 0, width: 925, height: 483, background: "#fff" }}>
      <div style={{ position: "absolute", left: 0, top: 0 }}>
        <PanelA />
      </div>
      <div style={{ position: "absolute", left: 462, top: 0 }}>
        <PanelB />
      </div>
    </div>
  );
}
